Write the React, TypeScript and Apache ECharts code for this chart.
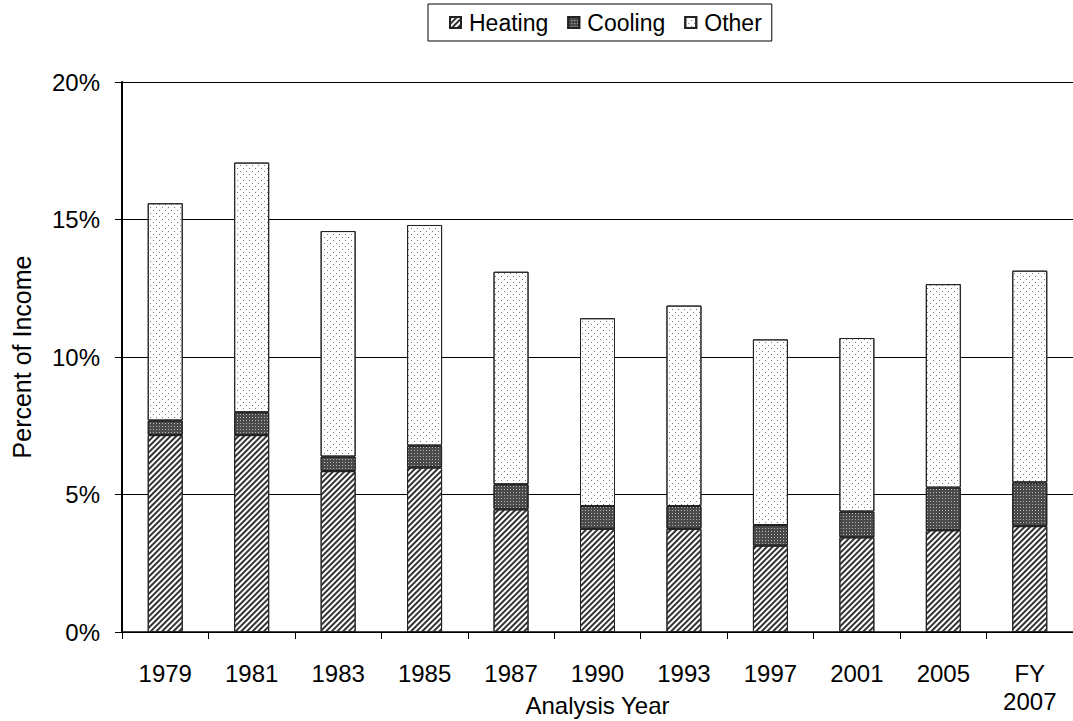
import React, { useEffect, useRef } from "react";
import * as echarts from "echarts";

const categories = ["1979", "1981", "1983", "1985", "1987", "1990", "1993", "1997", "2001", "2005", "FY\n2007"];
const heating = [7.16, 7.16, 5.85, 5.98, 4.46, 3.75, 3.75, 3.14, 3.44, 3.70, 3.85];
const cooling = [0.53, 0.83, 0.53, 0.80, 0.91, 0.83, 0.83, 0.75, 0.94, 1.55, 1.59];
const other = [7.90, 9.08, 8.20, 8.02, 7.73, 6.83, 7.29, 6.75, 6.31, 7.40, 7.70];
const yTicks = [0, 5, 10, 15, 20];

const FONT = "Liberation Sans, Arial, sans-serif";

export default function App() {
  const ref = useRef<HTMLDivElement>(null);
  useEffect(() => {
    if (!ref.current) return;
    const chart = echarts.init(ref.current, null, { renderer: "svg" });
    const border = { borderColor: "#222", borderWidth: 1 };
    chart.setOption({
      animation: false,
      backgroundColor: "#fff",
      textStyle: { fontFamily: FONT, color: "#000" },
      legend: {
        left: 428,
        top: 4,
        padding: [7, 10, 7, 21],
        itemGap: 19,
        itemWidth: 11,
        itemHeight: 11,
        icon: "rect",
        borderColor: "#000",
        borderWidth: 1,
        textStyle: { fontSize: 23, fontFamily: FONT, color: "#000", padding: [0, 0, 0, 3] },
        data: ["Heating", "Cooling", "Other"],
      },
      grid: { left: 122, right: 0, top: 82, bottom: 89, containLabel: false, outerBoundsMode: "none" },
      xAxis: {
        type: "category",
        data: categories,
        name: "Analysis Year",
        nameLocation: "middle",
        nameGap: 61,
        nameMoveOverlap: false,
        nameTextStyle: { fontSize: 24, fontFamily: FONT, color: "#000" },
        axisLine: { lineStyle: { color: "#000", width: 1.5 } },
        axisTick: { show: true, length: 7, lineStyle: { color: "#000" } },
        axisLabel: { fontSize: 24, fontFamily: FONT, color: "#000", margin: 27, lineHeight: 28 },
      },
      yAxis: {
        type: "value",
        min: yTicks[0],
        max: yTicks[yTicks.length - 1],
        interval: 5,
        name: "Percent of Income",
        nameLocation: "middle",
        nameGap: 88,
        nameMoveOverlap: false,
        nameTextStyle: { fontSize: 25, fontFamily: FONT, color: "#000" },
        axisLine: { show: true, lineStyle: { color: "#000", width: 2 } },
        axisTick: { show: true, length: 7, lineStyle: { color: "#000" } },
        axisLabel: { fontSize: 24, fontFamily: FONT, color: "#000", margin: 22, formatter: "{value}%" },
        splitLine: { show: true, lineStyle: { color: "#000", width: 1 } },
      },
      series: [
        {
          name: "Heating",
          type: "bar",
          stack: "total",
          barWidth: 35,
          data: heating,
          itemStyle: {
            color: "#fff",
            ...border,
            decal: {
              symbol: "rect",
              symbolSize: 1,
              color: "#333333",
              backgroundColor: "#ffffff",
              dashArrayX: [1, 0],
              dashArrayY: [2, 2],
              rotation: -Math.PI / 4,
            },
          },
        },
        {
          name: "Cooling",
          type: "bar",
          stack: "total",
          barWidth: 35,
          data: cooling,
          itemStyle: {
            color: "#4a4a4a",
            ...border,
            decal: {
              symbol: "rect",
              symbolSize: 1,
              color: "#b8b8b8",
              backgroundColor: "#4a4a4a",
              dashArrayX: [1, 2],
              dashArrayY: [1, 2],
              rotation: 0,
            },
          },
        },
        {
          name: "Other",
          type: "bar",
          stack: "total",
          barWidth: 35,
          data: other,
          itemStyle: {
            color: "#fff",
            ...border,
            decal: {
              symbol: "rect",
              symbolSize: 1,
              color: "#777",
              backgroundColor: "#ffffff",
              dashArrayX: [[1, 5], [0, 3, 1, 2]],
              dashArrayY: [1, 2],
              rotation: 0,
            },
          },
        },
      ],
    });
    return () => chart.dispose();
  }, []);
  return <div ref={ref} style={{ width: 1073, height: 721, position: "absolute", left: 0, top: 0 }} />;
}
